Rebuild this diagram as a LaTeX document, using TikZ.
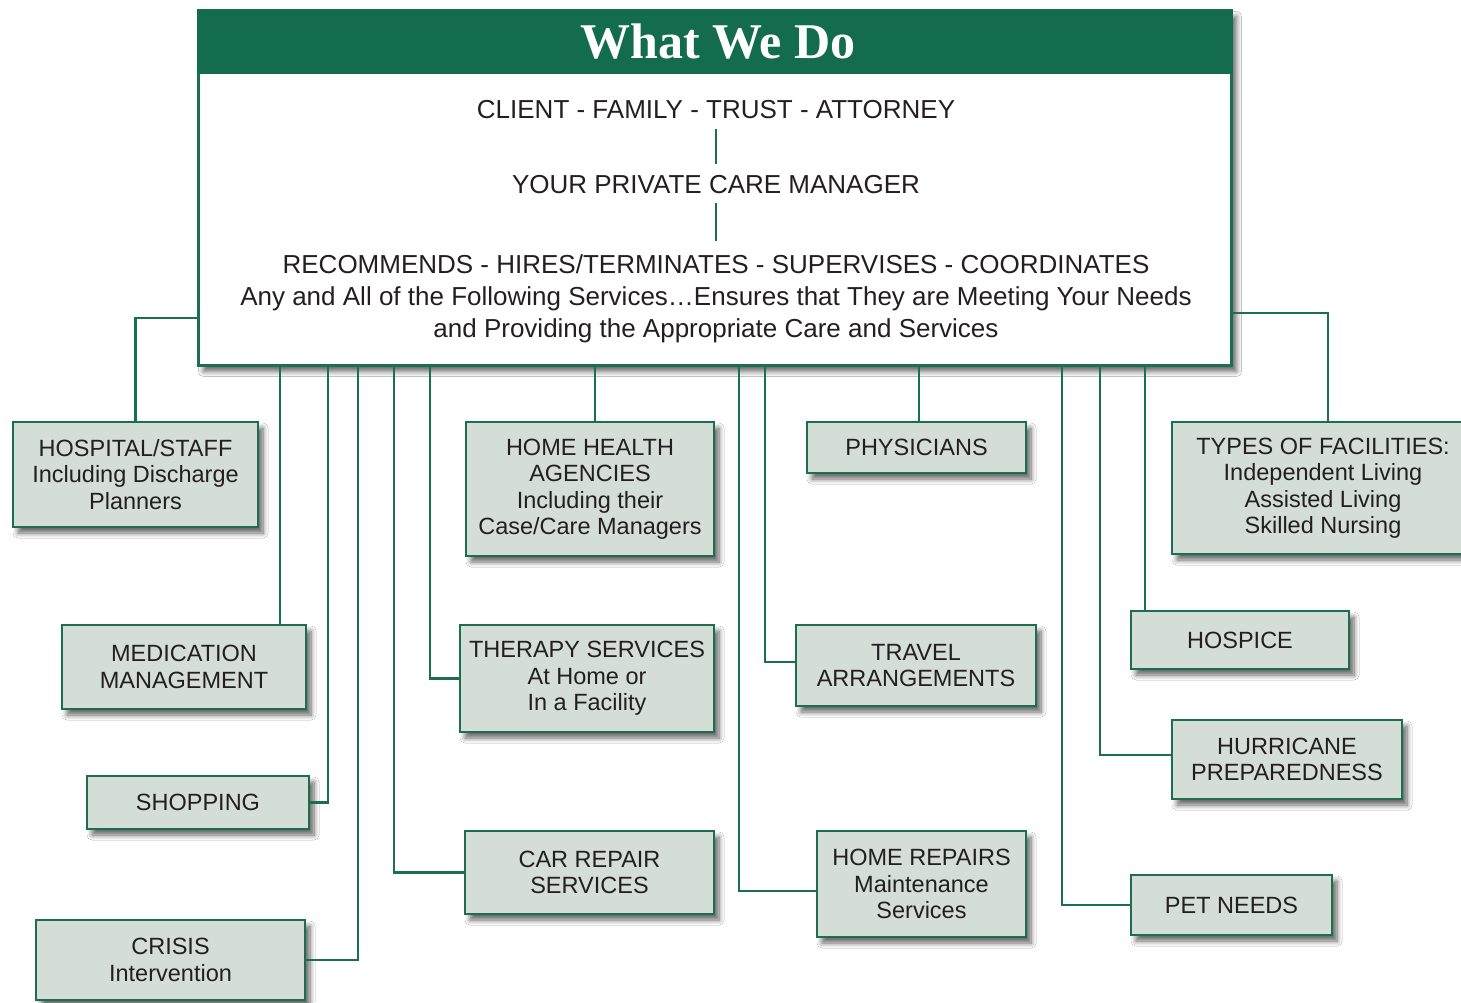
\documentclass[tikz,border=0pt]{standalone}
\usepackage{fontspec}
\setmainfont{Liberation Sans}
\newfontfamily\titlefont{Liberation Serif}
\usetikzlibrary{shadows.blur}
\definecolor{hdrgreen}{HTML}{146C4E}
\definecolor{lngreen}{HTML}{1B6F50}
\definecolor{boxfill}{HTML}{D4DDD6}
\definecolor{txt}{HTML}{231F20}
\begin{document}
\begin{tikzpicture}[x=1pt,y=-1pt,
  shad/.style={blur shadow={shadow xshift=5pt, shadow yshift=-6pt, shadow blur steps=8, shadow opacity=60, shadow blur radius=5pt}},
  svc/.style={draw=lngreen, line width=2.6pt, fill=boxfill, inner sep=0pt, align=center,
    font=\fontsize{23.5}{26.5}\selectfont, text=txt, shad},
  conn/.style={draw=lngreen, line width=2.6pt},
  mtext/.style={font=\fontsize{26}{32}\selectfont, text=txt, inner sep=0pt, text height=18.5pt, text depth=0pt}]
\useasboundingbox (0,0) rectangle (1461,1002);
\clip (0,0) rectangle (1461,1002);
\fill[white] (0,0) rectangle (1461,1002);

% main box
\node[draw=lngreen, line width=2.6pt, fill=white, minimum width=1033pt, minimum height=355pt, inner sep=0pt, shad] (main) at (715,188) {};
\node[fill=hdrgreen, minimum width=1036pt, minimum height=64pt, inner sep=0pt, anchor=north west] (hdr) at (197,10) {};
\node[text=white, inner sep=0pt, font=\titlefont\bfseries\fontsize{50}{50}\selectfont] (title) at (718,42) {What We Do};

\node[mtext] (t1) at (716,109) {CLIENT - FAMILY - TRUST - ATTORNEY};
\node[mtext] (t2) at (716,184) {YOUR PRIVATE CARE MANAGER};
\node[mtext] (t3) at (716,264) {RECOMMENDS - HIRES/TERMINATES - SUPERVISES - COORDINATES};
\node[mtext] (t4) at (716,296) {Any and All of the Following Services\ldots Ensures that They are Meeting Your Needs};
\node[mtext] (t5) at (716,328) {and Providing the Appropriate Care and Services};
\draw[draw=lngreen, line width=2pt, shorten <=11pt, shorten >=11pt] (t1.south) -- (t2.north);
\draw[draw=lngreen, line width=2pt, shorten <=10pt, shorten >=14pt] (t2.south) -- (t3.north);

% service boxes
\node[svc, minimum width=245pt, minimum height=105pt] (hosp) at (135.5,474.5) {HOSPITAL/STAFF\\Including Discharge\\Planners};
\node[svc, minimum width=244pt, minimum height=84pt] (med) at (184,667) {MEDICATION\\MANAGEMENT};
\node[svc, minimum width=222pt, minimum height=53pt] (shop) at (198,802.5) {SHOPPING};
\node[svc, minimum width=269pt, minimum height=80pt] (crisis) at (170.5,960) {CRISIS\\Intervention};
\node[svc, minimum width=248pt, minimum height=134pt] (hh) at (590,489) {HOME HEALTH\\AGENCIES\\Including their\\Case/Care Managers};
\node[svc, minimum width=254pt, minimum height=107pt] (ther) at (587,678.5) {THERAPY SERVICES\\At Home or\\In a Facility};
\node[svc, minimum width=249pt, minimum height=83pt] (car) at (589.5,872.5) {CAR REPAIR\\SERVICES};
\node[svc, minimum width=219pt, minimum height=51pt] (phys) at (916.5,447.5) {PHYSICIANS};
\node[svc, minimum width=240pt, minimum height=81pt] (travel) at (916,665.5) {TRAVEL\\ARRANGEMENTS};
\node[svc, minimum width=209pt, minimum height=106pt] (hrep) at (921.5,884) {HOME REPAIRS\\Maintenance\\Services};
\node[svc, minimum width=302pt, minimum height=132pt] (fac) at (1323,488) {TYPES OF FACILITIES:\\Independent Living\\Assisted Living\\Skilled Nursing};
\node[svc, minimum width=218pt, minimum height=58pt] (hospice) at (1240,640) {HOSPICE};
\node[svc, minimum width=230pt, minimum height=79pt] (hurr) at (1287,759.5) {HURRICANE\\PREPAREDNESS};
\node[svc, minimum width=201pt, minimum height=60pt] (pet) at (1231.5,905) {PET NEEDS};

% connectors
\draw[conn] (main.west |- 0,318) -| (hosp.north);
\draw[conn] (main.south -| 280,0) -- (med.north -| 280,0);
\draw[conn] (main.south -| 328,0) |- (shop.east);
\draw[conn] (main.south -| 358,0) |- (crisis.east);
\draw[conn] (main.south -| 394,0) |- (car.west);
\draw[conn] (main.south -| 430,0) |- (ther.west);
\draw[conn] (main.south -| 595,0) -- (hh.north -| 595,0);
\draw[conn] (main.south -| 739,0) |- (hrep.west |- 0,891);
\draw[conn] (main.south -| 765,0) |- (travel.west |- 0,662);
\draw[conn] (main.south -| 919,0) -- (phys.north -| 919,0);
\draw[conn] (main.south -| 1062,0) |- (pet.west);
\draw[conn] (main.south -| 1100,0) |- (hurr.west |- 0,755);
\draw[conn] (main.south -| 1145,0) -- (hospice.north -| 1145,0);
\draw[conn] (main.east |- 0,313) -| (fac.north -| 1328,0);
\end{tikzpicture}
\end{document}
